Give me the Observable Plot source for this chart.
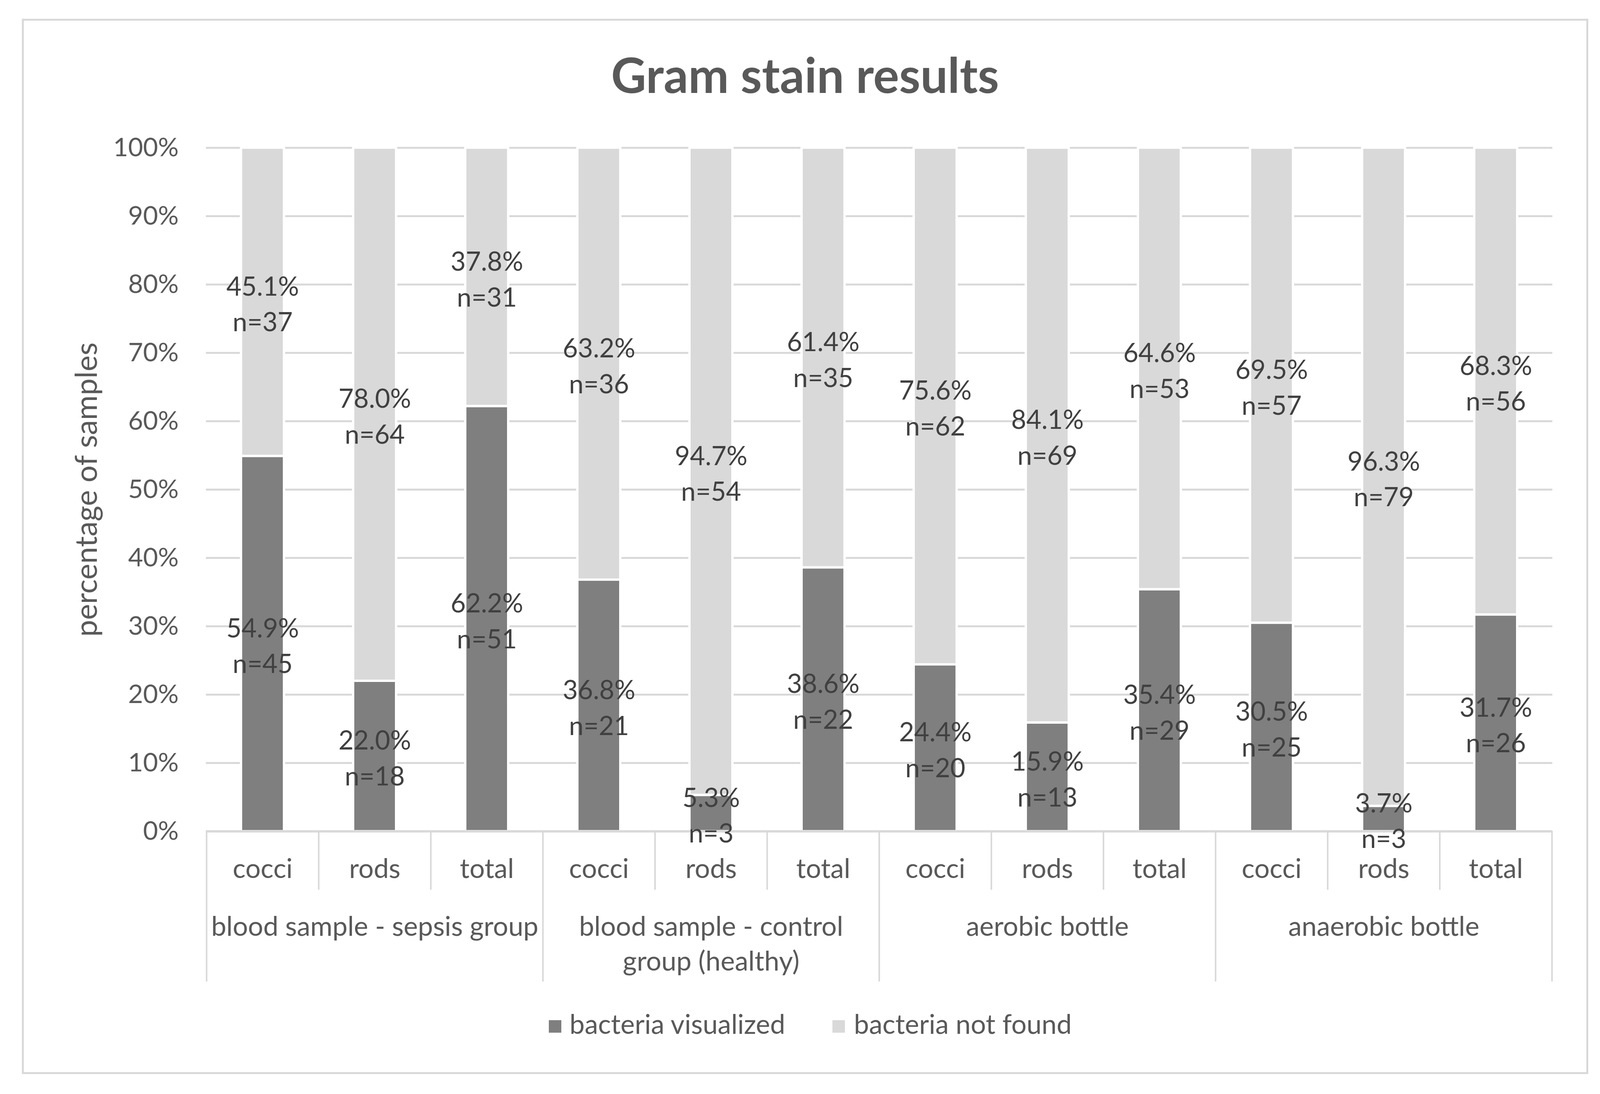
<!DOCTYPE html>
<html>
<head>
<meta charset="utf-8">
<script src="https://cdn.jsdelivr.net/npm/d3@7"></script>
<script src="https://cdn.jsdelivr.net/npm/@observablehq/plot@0.6"></script>
<style>
  html, body { margin: 0; padding: 0; background: #fff; }
  body { width: 4117px; height: 2801px; position: relative; overflow: hidden; font-family: Lato, sans-serif; }
  #frame { position: absolute; left: 56px; top: 48px; width: 4010px; height: 2702px; border: 5px solid #d9d9d9; box-sizing: border-box; }
  #title { position: absolute; left: 0; width: 4122px; top: 128px; text-align: center; font-family: Lato, sans-serif; font-weight: bold; font-size: 124px; line-height: 124px; color: #595959; }
  #chart { position: absolute; left: 0; top: 300px; }
  .leg { position: absolute; top: 2586px; font-family: Lato, sans-serif; font-size: 69px; line-height: 69px; color: #595959; white-space: nowrap; }
  .sw { position: absolute; width: 32px; height: 32px; top: 2612px; }
</style>
</head>
<body>
<div id="frame"></div>
<div id="title">Gram stain results</div>
<div id="chart"></div>
<div id="legend"></div>
<script>
// ---- data ----
const groups = ["blood sample - sepsis group", "blood sample - control group (healthy)", "aerobic bottle", "anaerobic bottle"];
const groupLabels = ["blood sample - sepsis group", "blood sample - control\ngroup (healthy)", "aerobic bottle", "anaerobic bottle"];
const types = ["cocci", "rods", "total"];
const series = ["bacteria visualized", "bacteria not found"];
const visualizedPct = [54.9, 22.0, 62.2, 36.8, 5.3, 38.6, 24.4, 15.9, 35.4, 30.5, 3.7, 31.7];
const visualizedN   = [45, 18, 51, 21, 3, 22, 20, 13, 29, 25, 3, 26];
const notFoundPct   = [45.1, 78.0, 37.8, 63.2, 94.7, 61.4, 75.6, 84.1, 64.6, 69.5, 96.3, 68.3];
const notFoundN     = [37, 64, 31, 36, 54, 35, 62, 69, 53, 57, 79, 56];
const yTicks = [0, 10, 20, 30, 40, 50, 60, 70, 80, 90, 100];
const colors = ["#7f7f7f", "#d9d9d9"];

// ---- layout ----
const W = 4117, H = 2240;
const mL = 527, mR = 143, mT = 78, mB = 412;
const plotW = W - mL - mR, plotH = H - mT - mB;
const step = plotW / 12;

const keys = [];
groups.forEach((g, gi) => types.forEach(t => keys.push(gi + "|" + t)));
const rows = [];
keys.forEach((k, i) => {
  rows.push({key: k, series: series[0], pct: visualizedPct[i], n: visualizedN[i]});
  rows.push({key: k, series: series[1], pct: notFoundPct[i], n: notFoundN[i]});
});
const groupRows = groups.map((g, gi) => ({key: gi + "|rods", label: groupLabels[gi]}));
const smallSep = keys.filter(k => !k.endsWith("|cocci"));
const bigSepLeft = keys.filter(k => k.endsWith("|cocci"));
const lastKey = keys[keys.length - 1];

const plot = Plot.plot({
  width: W, height: H,
  marginLeft: mL, marginRight: mR, marginTop: mT, marginBottom: mB,
  style: {fontFamily: "Lato, sans-serif", color: "#595959", background: "transparent"},
  x: {domain: keys, paddingInner: 0.615, paddingOuter: 0.3075, label: null},
  y: {domain: [0, 100], label: null},
  color: {domain: series, range: colors},
  marks: [
    Plot.gridY(yTicks, {stroke: "#d9d9d9", strokeOpacity: 1, strokeWidth: 5}),
    Plot.axisY(yTicks, {tickFormat: d => d + "%", tickSize: 0, tickPadding: 70, fontSize: 66, label: null, fill: "#595959"}),
    Plot.axisX({tickFormat: k => k.split("|")[1], tickSize: 0, tickPadding: 70, fontSize: 69, label: null, fill: "#595959"}),
    Plot.barY(rows, {x: "key", y: "pct", fill: "series", stroke: "white", strokeWidth: 6}),
    Plot.ruleY([0], {stroke: "#d9d9d9", strokeWidth: 6}),
    Plot.ruleX(smallSep, {x: d => d, dx: -step / 2, insetTop: plotH, insetBottom: -150, stroke: "#d9d9d9", strokeWidth: 4}),
    Plot.ruleX(bigSepLeft, {x: d => d, dx: -step / 2, insetTop: plotH, insetBottom: -385, stroke: "#d9d9d9", strokeWidth: 4}),
    Plot.ruleX([lastKey], {x: d => d, dx: step / 2, insetTop: plotH, insetBottom: -385, stroke: "#d9d9d9", strokeWidth: 4}),
    Plot.text(rows, Plot.stackY({x: "key", y: "pct", z: "series",
      text: d => d.pct.toFixed(1) + "%\nn=" + d.n, fill: "#404040", fontSize: 67, lineHeight: 1.37})),
    Plot.text(groupRows, {x: "key", text: "label", frameAnchor: "bottom", lineAnchor: "top", dy: 204, fontSize: 69, lineHeight: 1.29, fill: "#595959"}),
    Plot.text(["percentage of samples"], {text: d => d, frameAnchor: "left", textAnchor: "middle", rotate: -90, dx: -(mL - 223), fontSize: 77, fill: "#595959"})
  ]
});
document.getElementById("chart").appendChild(plot);

// ---- legend ----
const legend = document.getElementById("legend");
const legPos = [[1405, 1458], [2131, 2186]];
series.forEach((s, i) => {
  const sw = document.createElement("div");
  sw.className = "sw";
  sw.style.left = legPos[i][0] + "px";
  sw.style.background = colors[i];
  legend.appendChild(sw);
  const t = document.createElement("div");
  t.className = "leg";
  t.style.left = legPos[i][1] + "px";
  t.textContent = s;
  legend.appendChild(t);
});
</script>
</body>
</html>
